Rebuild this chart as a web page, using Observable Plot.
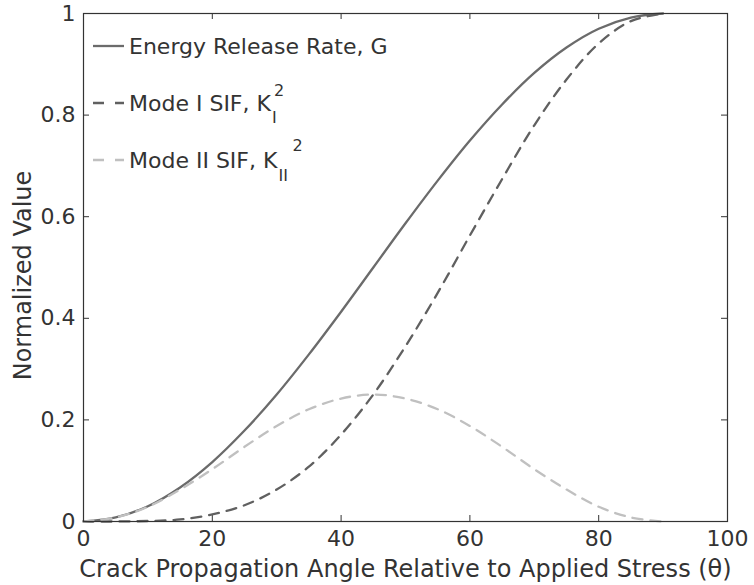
<!DOCTYPE html>
<html><head><meta charset="utf-8">
<script src="https://cdn.jsdelivr.net/npm/d3@7"></script>
<script src="https://cdn.jsdelivr.net/npm/@observablehq/plot@0.6"></script>
<style>
body{margin:0;background:#fff;}
#wrap{position:relative;width:754px;height:585px;font-family:"DejaVu Sans",Verdana,sans-serif;color:#333;}
.row{position:absolute;left:93px;height:26px;display:flex;align-items:center;font-size:22px;white-space:nowrap;}
.row svg{margin-right:5px;}
.stack{display:inline-block;position:relative;height:26px;font-size:16px;line-height:16px;}
.stack span{position:absolute;display:block;}
</style></head><body><div id="wrap"></div>
<script>
const theta   = [0,5,10,15,20,25,30,35,40,45,50,55,60,65,70,75,80,85,90];
const energyG = [0,0.008,0.030,0.067,0.117,0.179,0.250,0.329,0.413,0.500,0.587,0.671,0.750,0.821,0.883,0.933,0.970,0.992,1.000];
const modeI   = [0,0.000,0.001,0.004,0.014,0.032,0.063,0.108,0.171,0.250,0.345,0.450,0.563,0.674,0.780,0.870,0.941,0.985,1.000];
const modeII  = [0,0.008,0.029,0.063,0.103,0.147,0.188,0.221,0.242,0.250,0.242,0.221,0.188,0.147,0.103,0.063,0.029,0.008,0];
const xTicks = [0,20,40,60,80,100];
const yTicks = [0,0.2,0.4,0.6,0.8,1];
const yTickLabels = ["0","0.2","0.4","0.6","0.8","1"];
const seriesNames = ["Energy Release Rate, G","Mode I SIF, K","Mode II SIF, K"];

const W = 754, H = 585, mL = 83, mR = 27, mT = 13, mB = 64;
const pw = W - mL - mR, ph = H - mT - mB;
const rows = theta.map((t,i)=>({t, g:energyG[i], k1:modeI[i], k2:modeII[i]}));
const cG = "#6b6b6b", cI = "#606060", cII = "#c0c0c0";

const chart = Plot.plot({
  width: W, height: H,
  marginLeft: mL, marginRight: mR, marginTop: mT, marginBottom: mB,
  style: {fontFamily: '"DejaVu Sans", Verdana, sans-serif', fontSize: "22px", color: "#333", background: "#fff", overflow: "visible"},
  x: {domain: [0,100]},
  y: {domain: [0,1]},
  marks: [
    Plot.ruleX(xTicks, {x: d=>d, stroke: "#333", insetTop: ph-6}),
    Plot.ruleX(xTicks, {x: d=>d, stroke: "#333", insetBottom: ph-6}),
    Plot.ruleY(yTicks, {y: d=>d, stroke: "#333", insetRight: pw-6}),
    Plot.ruleY(yTicks, {y: d=>d, stroke: "#333", insetLeft: pw-6}),
    Plot.line(rows, {x:"t", y:"g", stroke: cG, strokeWidth: 2.3, curve: "catmull-rom"}),
    Plot.line(rows, {x:"t", y:"k1", stroke: cI, strokeWidth: 2.3, strokeDasharray: "10,8", curve: "catmull-rom"}),
    Plot.line(rows, {x:"t", y:"k2", stroke: cII, strokeWidth: 2.3, strokeDasharray: "10,8", curve: "catmull-rom"}),
    Plot.frame({stroke: "#333", strokeWidth: 1.2}),
    Plot.axisX({ticks: xTicks, tickSize: 0, tickPadding: 9, tickFormat: d=>String(d), fontSize: 22,
      label: "Crack Propagation Angle Relative to Applied Stress (θ)", labelAnchor: "center", labelArrow: "none", labelOffset: 55}),
    Plot.axisY({ticks: yTicks, tickSize: 0, tickPadding: 8, tickFormat: (d,i)=>yTickLabels[i], fontSize: 22,
      label: "Normalized Value", labelAnchor: "center", labelArrow: "none", labelOffset: 63})
  ]
});
const wrap = document.getElementById("wrap");
wrap.appendChild(chart);
// axis titles slightly larger than tick labels
d3.select(chart).selectAll("g[aria-label='x-axis label'] text").style("font-size", "24px");
d3.select(chart).selectAll("g[aria-label='y-axis label'] text").style("font-size", "24px")
  .attr("transform", function(){ return (this.getAttribute("transform") || "") + " translate(-8,-7)"; });

function sample(color){
  const dash = color === cG ? "" : 'stroke-dasharray="11,11"';
  return `<svg width="31" height="6"><line x1="0" y1="3" x2="31" y2="3" stroke="${color}" stroke-width="2.3" ${dash}/></svg>`;
}
const leg = [
  {top: 33, html: sample(cG) + `<span>${seriesNames[0]}</span>`},
  {top: 90, html: sample(cI) + `<span>${seriesNames[1]}</span><span class="stack" style="width:12px"><span style="left:3px;top:-7px">2</span><span style="left:1px;top:20px">I</span></span>`},
  {top: 147, html: sample(cII) + `<span>${seriesNames[2]}</span><span class="stack" style="width:28px"><span style="left:15px;top:-9px">2</span><span style="left:1px;top:21px">II</span></span>`}
];
leg.forEach(r=>{
  const d = document.createElement("div");
  d.className = "row"; d.style.top = r.top + "px"; d.innerHTML = r.html;
  wrap.appendChild(d);
});
</script></body></html>
